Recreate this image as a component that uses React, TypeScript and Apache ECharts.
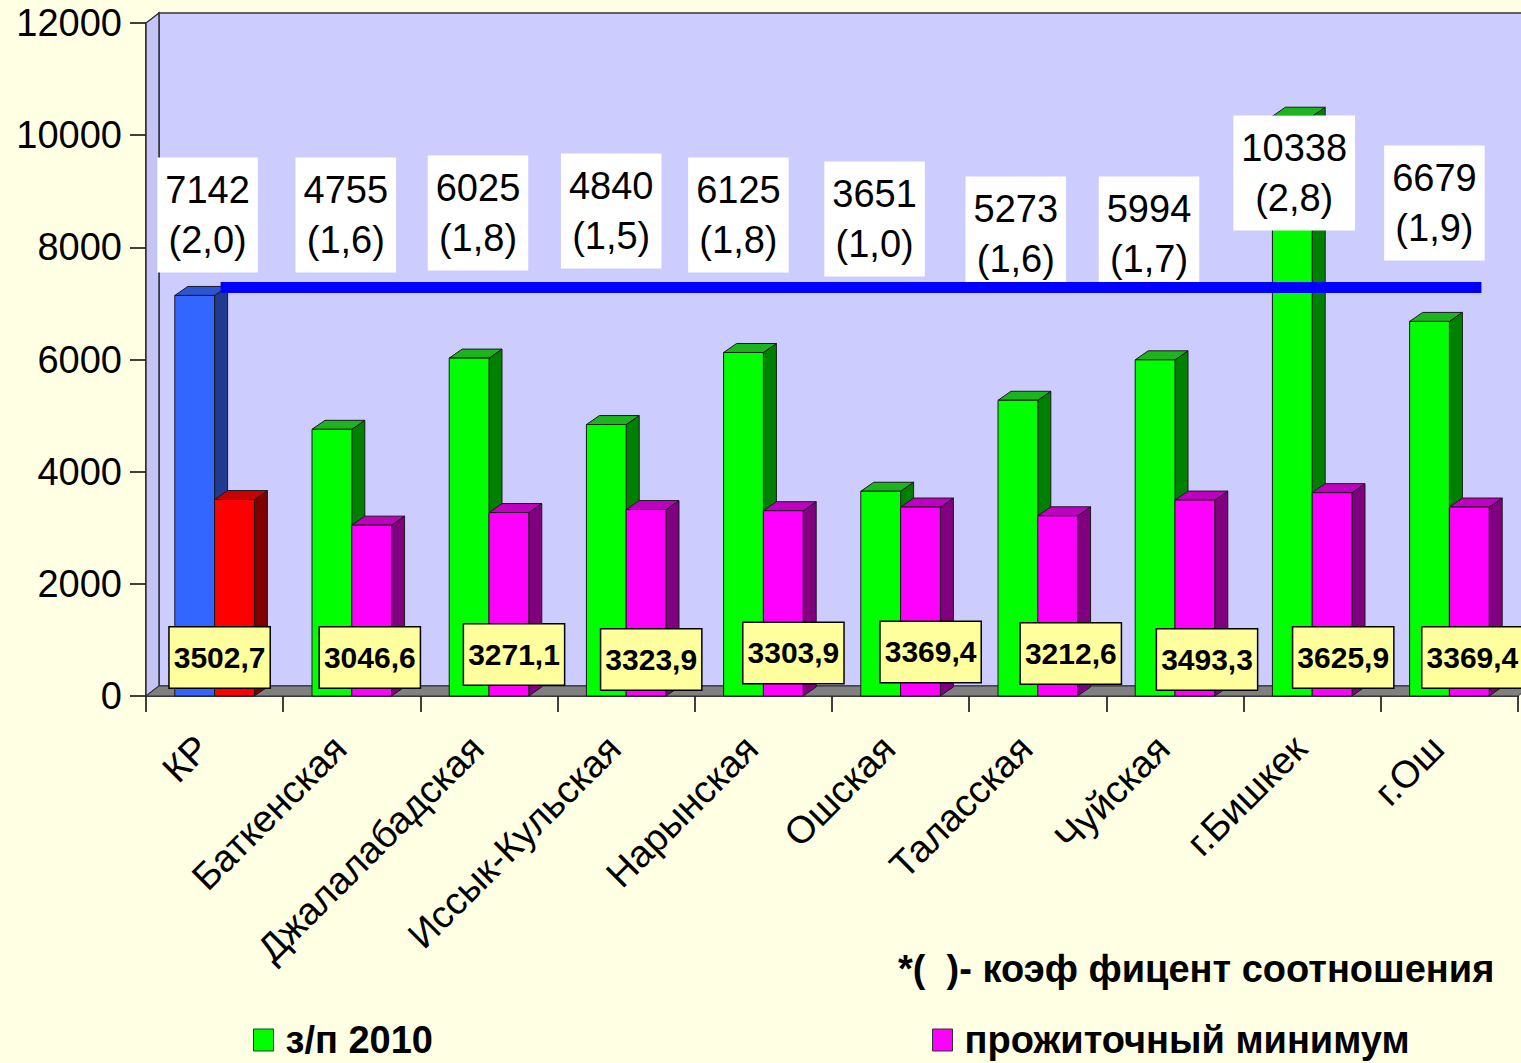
import React, { useEffect, useRef } from 'react';
import * as echarts from 'echarts';

const categories = ['КР', 'Баткенская', 'Джалалабадская', 'Иссык-Кульская', 'Нарынская', 'Ошская', 'Таласская', 'Чуйская', 'г.Бишкек', 'г.Ош'];
const wages = [7142, 4755, 6025, 4840, 6125, 3651, 5273, 5994, 10338, 6679];
const ratios = ['2,0', '1,6', '1,8', '1,5', '1,8', '1,0', '1,6', '1,7', '2,8', '1,9'];
const minimum = [3502.7, 3046.6, 3271.1, 3323.9, 3303.9, 3369.4, 3212.6, 3493.3, 3625.9, 3369.4];
const Y_MIN = 0;
const Y_MAX = 12000;
const Y_INTERVAL = 2000;

// label layout: value-axis level of the label box centre and px shift from category centre
const upperLabelLevel = [8577, 8577, 8613, 8648, 8577, 8506, 8238, 8238, 9326, 8791];
const upperLabelShift = [-7, -6, -11, -15, -25, -26, -22, -26, -18, -15];
const lowerLabelLevel = [687, 687, 740, 651, 767, 785, 758, 651, 687, 687];
const lowerLabelShift = [5, 18, 25, 25, 30, 30, 33, 32, 31, 23];

const FONT = "'Liberation Sans', Arial, sans-serif";
const BAR_DX = 13;
const BAR_DY = -9;
const WALL_DX = 13;
const WALL_DY = -10;

const palettes = {
  blue: { front: '#3366FF', top: '#2A55D4', side: '#1F3A8F' },
  red: { front: '#FF0000', top: '#CC0000', side: '#800000' },
  green: { front: '#00FF00', top: '#1DB51D', side: '#008000' },
  magenta: { front: '#FF00FF', top: '#C000C0', side: '#800080' },
};

const fmtMin = (v: number) => v.toFixed(1).replace('.', ',');

function makeBarRenderer(slot: number) {
  return (params: any, api: any) => {
    const i = api.value(0);
    const v = api.value(1);
    const top = api.coord([i, v]);
    const base = api.coord([i, 0]);
    const catW = api.size([1, 0])[0];
    const w = catW * 0.29;
    const cx = top[0];
    const x0 = slot === 0 ? cx - w : cx;
    const x1 = x0 + w;
    const yt = top[1];
    const yb = base[1];
    const pal = slot === 0 ? (i === 0 ? palettes.blue : palettes.green) : (i === 0 ? palettes.red : palettes.magenta);
    const stroke = '#1a1a1a';
    return {
      type: 'group',
      children: [
        {
          type: 'polygon',
          shape: { points: [[x1, yt], [x1 + BAR_DX, yt + BAR_DY], [x1 + BAR_DX, yb + BAR_DY], [x1, yb]] },
          style: { fill: pal.side, stroke, lineWidth: 1 },
        },
        {
          type: 'polygon',
          shape: { points: [[x0, yt], [x0 + BAR_DX, yt + BAR_DY], [x1 + BAR_DX, yt + BAR_DY], [x1, yt]] },
          style: { fill: pal.top, stroke, lineWidth: 1 },
        },
        {
          type: 'rect',
          shape: { x: x0, y: yt, width: w, height: yb - yt },
          style: { fill: pal.front, stroke, lineWidth: 1 },
        },
      ],
    };
  };
}

function renderWalls(params: any) {
  const cs = params.coordSys;
  const x = cs.x;
  const y = cs.y;
  const w = cs.width;
  const h = cs.height;
  const stroke = '#333333';
  return {
    type: 'group',
    children: [
      {
        type: 'polygon',
        shape: { points: [[x + WALL_DX, y + WALL_DY], [x + w + WALL_DX, y + WALL_DY], [x + w + WALL_DX, y + h + WALL_DY], [x + WALL_DX, y + h + WALL_DY]] },
        style: { fill: '#CCCCFF', stroke, lineWidth: 1.5 },
      },
      {
        type: 'polygon',
        shape: { points: [[x, y], [x + WALL_DX, y + WALL_DY], [x + WALL_DX, y + h + WALL_DY], [x, y + h]] },
        style: { fill: '#C4C4F6', stroke, lineWidth: 1.5 },
      },
      {
        type: 'polygon',
        shape: { points: [[x, y + h], [x + WALL_DX, y + h + WALL_DY], [x + w + WALL_DX, y + h + WALL_DY], [x + w, y + h]] },
        style: { fill: '#808080', stroke, lineWidth: 1 },
      },
    ],
  };
}

function renderRefLine(params: any, api: any) {
  const v = api.value(1);
  const p0 = api.coord([0, v]);
  const p9 = api.coord([categories.length - 1, v]);
  const y = p0[1] - 8;
  return {
    type: 'line',
    shape: { x1: p0[0] + 6, y1: y, x2: p9[0] + 32, y2: y },
    style: { stroke: '#0000FF', lineWidth: 11, lineCap: 'butt' },
  };
}

function renderUpperLabel(params: any, api: any) {
  const i = api.value(0);
  const idx = params.dataIndex;
  const p = api.coord([i, upperLabelLevel[idx]]);
  return {
    type: 'text',
    x: p[0] + upperLabelShift[idx],
    y: p[1],
    style: {
      text: `${wages[idx]}\n(${ratios[idx]})`,
      fontSize: 38,
      fontFamily: FONT,
      lineHeight: 50,
      fill: '#000000',
      align: 'center',
      verticalAlign: 'middle',
      backgroundColor: '#FFFFFF',
      padding: [8, 8, 7, 8],
    },
  };
}

function renderLowerLabel(params: any, api: any) {
  const i = api.value(0);
  const idx = params.dataIndex;
  const p = api.coord([i, lowerLabelLevel[idx]]);
  return {
    type: 'text',
    x: p[0] + lowerLabelShift[idx],
    y: p[1],
    style: {
      text: fmtMin(minimum[idx]),
      fontSize: 30,
      fontWeight: 'bold',
      fontFamily: FONT,
      lineHeight: 34,
      fill: '#000000',
      align: 'center',
      verticalAlign: 'middle',
      backgroundColor: '#FFFF9E',
      borderColor: '#000000',
      borderWidth: 1.5,
      padding: [13, 4, 13, 4],
    },
  };
}

export default function App() {
  const ref = useRef<HTMLDivElement>(null);
  useEffect(() => {
    if (!ref.current) return;
    const chart = echarts.init(ref.current, null, { renderer: 'svg' });
    const legendText = { fontSize: 38, fontWeight: 'bold', fontFamily: FONT, color: '#000000', padding: [0, 0, 0, 7] };
    chart.setOption({
      animation: false,
      backgroundColor: '#FFFFE4',
      grid: { left: 146, right: 3, top: 23, bottom: 367, containLabel: false },
      xAxis: {
        type: 'category',
        data: categories,
        axisLine: { show: true, lineStyle: { color: '#000000', width: 1.5 } },
        axisTick: { show: true, length: 16, lineStyle: { color: '#000000', width: 1.5 } },
        axisLabel: { interval: 0, rotate: 45, fontSize: 38, fontFamily: FONT, color: '#000000', margin: 34, padding: [0, 17, 0, 0] },
        splitLine: { show: false },
      },
      yAxis: {
        type: 'value',
        min: Y_MIN,
        max: Y_MAX,
        interval: Y_INTERVAL,
        axisLine: { show: true, lineStyle: { color: '#000000', width: 1.5 } },
        axisTick: { show: true, length: 16, lineStyle: { color: '#000000', width: 1.5 } },
        axisLabel: { fontSize: 38, fontFamily: FONT, color: '#000000', margin: 24, formatter: (v: number) => String(v) },
        splitLine: { show: false },
      },
      legend: [
        {
          data: ['з/п 2010'],
          left: 253,
          top: 1021,
          padding: 0,
          icon: 'rect',
          itemWidth: 20,
          itemHeight: 22,
          selectedMode: false,
          itemStyle: { borderColor: '#333333', borderWidth: 1 },
          textStyle: legendText,
        },
        {
          data: ['прожиточный минимум'],
          left: 932,
          top: 1021,
          padding: 0,
          icon: 'rect',
          itemWidth: 20,
          itemHeight: 22,
          selectedMode: false,
          itemStyle: { borderColor: '#333333', borderWidth: 1 },
          textStyle: legendText,
        },
      ],
      graphic: [
        {
          type: 'text',
          left: 898,
          top: 950,
          style: { text: '*(  )- коэф фицент соотношения', fontSize: 38, fontWeight: 'bold', fontFamily: FONT, fill: '#000000' },
        },
      ],
      series: [
        {
          type: 'custom',
          name: 'walls',
          z: 1,
          clip: false,
          silent: true,
          data: [[0, 0]],
          renderItem: renderWalls,
        },
        {
          type: 'custom',
          name: 'з/п 2010',
          z: 2,
          clip: false,
          itemStyle: { color: '#00FF00' },
          data: wages.map((v, i) => [i, v]),
          renderItem: makeBarRenderer(0),
        },
        {
          type: 'custom',
          name: 'прожиточный минимум',
          z: 2,
          clip: false,
          itemStyle: { color: '#FF00FF' },
          data: minimum.map((v, i) => [i, v]),
          renderItem: makeBarRenderer(1),
        },
        {
          type: 'custom',
          name: 'upperLabels',
          z: 4,
          clip: false,
          data: wages.map((v, i) => [i, v]),
          renderItem: renderUpperLabel,
        },
        {
          type: 'custom',
          name: 'refline',
          z: 5,
          clip: false,
          data: [[0, wages[0]]],
          renderItem: renderRefLine,
        },
        {
          type: 'custom',
          name: 'lowerLabels',
          z: 4,
          clip: false,
          data: minimum.map((v, i) => [i, v]),
          renderItem: renderLowerLabel,
        },
      ],
    });
    return () => chart.dispose();
  }, []);
  return (
    <div style={{ position: 'fixed', left: 0, top: 0, width: 1521, height: 1063 }}>
      <div ref={ref} style={{ width: 1521, height: 1063 }} />
    </div>
  );
}
